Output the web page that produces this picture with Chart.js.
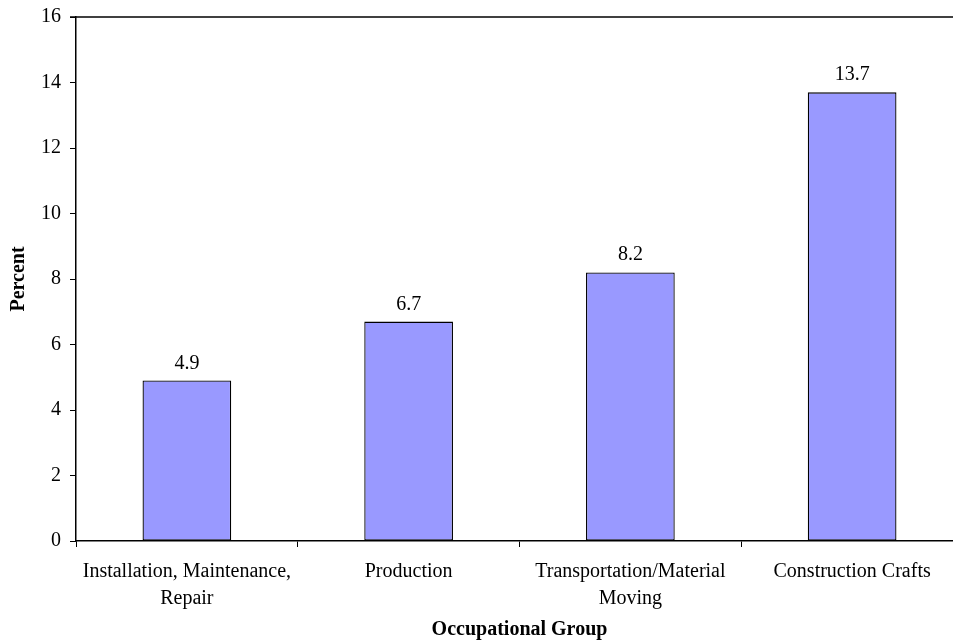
<!DOCTYPE html>
<html>
<head>
<meta charset="utf-8">
<script src="https://cdn.jsdelivr.net/npm/chart.js@4"></script>
<style>
  html, body { margin: 0; padding: 0; background: #fff; overflow: hidden; }
  #wrap { position: relative; width: 963px; height: 644px; }
</style>
</head>
<body>
<div id="wrap"><canvas id="chart" width="963" height="644"></canvas></div>
<script>
const categories = [
  ['Installation, Maintenance,', 'Repair'],
  'Production',
  ['Transportation/Material', 'Moving'],
  'Construction Crafts'
];
const percentValues = [4.9, 6.7, 8.2, 13.7];
const yTickMin = 0;
const yTickMax = 16;
const yTickStep = 2;

const FONT = "'Liberation Serif', 'Times New Roman', serif";

// Value labels above each bar, and the top frame line of the plot
const barValueLabels = {
  id: 'barValueLabels',
  afterDatasetsDraw(chart) {
    const ctx = chart.ctx;
    const meta = chart.getDatasetMeta(0);
    ctx.save();
    ctx.font = '20px ' + FONT;
    ctx.fillStyle = '#000';
    ctx.textAlign = 'center';
    ctx.textBaseline = 'alphabetic';
    meta.data.forEach((bar, i) => {
      ctx.fillText(percentValues[i].toFixed(1), bar.x, bar.y - 12);
    });
    // top frame line
    const ca = chart.chartArea;
    ctx.strokeStyle = '#000';
    ctx.lineWidth = 1.5;
    ctx.beginPath();
    ctx.moveTo(ca.left - 6, ca.top);
    ctx.lineTo(ca.right, ca.top);
    ctx.stroke();
    ctx.restore();
  }
};

new Chart(document.getElementById('chart'), {
  type: 'bar',
  data: {
    labels: categories,
    datasets: [{
      data: percentValues,
      backgroundColor: '#9999FF',
      borderColor: '#000',
      borderWidth: 1.3,
      borderSkipped: false,
      categoryPercentage: 1.0,
      barPercentage: 0.4
    }]
  },
  options: {
    responsive: false,
    animation: false,
    layout: { padding: { left: 0, right: 0, top: 17, bottom: 0 } },
    plugins: {
      legend: { display: false },
      tooltip: { enabled: false }
    },
    scales: {
      x: {
        offset: true,
        grid: {
          offset: true,
          drawOnChartArea: false,
          drawTicks: true,
          tickLength: 6,
          color: '#000',
          lineWidth: 1
        },
        border: { display: true, color: '#000', width: 1.5 },
        ticks: {
          color: '#000',
          padding: 11,
          maxRotation: 0,
          autoSkip: false,
          font: { family: FONT, size: 20, lineHeight: 1.35 }
        },
        title: {
          display: true,
          text: 'Occupational Group',
          color: '#000',
          font: { family: FONT, size: 20, weight: 'bold', lineHeight: 1.2 },
          padding: { top: 0, bottom: 2 }
        },
        afterFit(scale) {
          scale.height = 644 - 541;
          scale.paddingLeft = 0;
          scale.paddingRight = 0;
        }
      },
      y: {
        min: yTickMin,
        max: yTickMax,
        grid: {
          drawOnChartArea: false,
          drawTicks: true,
          tickLength: 6,
          color: '#000',
          lineWidth: 1
        },
        border: { display: true, color: '#000', width: 1.5 },
        ticks: {
          stepSize: yTickStep,
          color: '#000',
          padding: 9,
          font: { family: FONT, size: 20 }
        },
        title: {
          display: true,
          text: 'Percent',
          color: '#000',
          font: { family: FONT, size: 20, weight: 'bold', lineHeight: 1.2 },
          padding: { top: 7, bottom: 0 }
        },
        afterFit(scale) {
          scale.width = 76;
          scale.paddingTop = 0;
          scale.paddingBottom = 0;
        }
      }
    }
  },
  plugins: [barValueLabels]
});
</script>
</body>
</html>
